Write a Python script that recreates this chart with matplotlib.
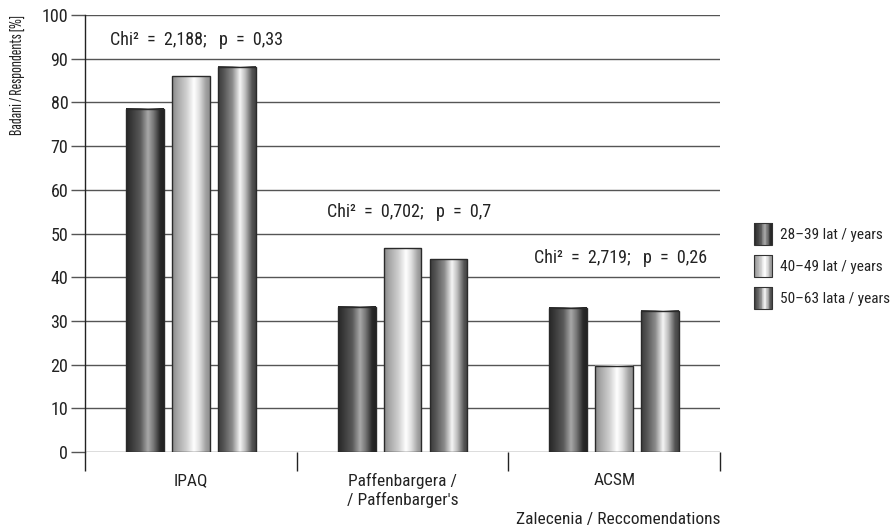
import numpy as np
import matplotlib
matplotlib.use("Agg")
import matplotlib.pyplot as plt
from matplotlib.colors import LinearSegmentedColormap
from matplotlib.patches import Rectangle
from matplotlib.legend_handler import HandlerBase

plt.rcParams['font.family'] = ['Roboto Condensed', 'DejaVu Sans']

categories = ["IPAQ", "Paffenbargera /\n/ Paffenbarger's", "ACSM"]
series_names = ["28\u201339 lat / years", "40\u201349 lat / years", "50\u201363 lata / years"]
val_28_39 = [78.6, 33.2, 33.0]
val_40_49 = [86.0, 46.6, 19.7]
val_50_63 = [88.2, 44.1, 32.3]
chi_texts = ["Chi\u00b2  =  2,188;   p  =  0,33", "Chi\u00b2  =  0,702;   p  =  0,7",
             "Chi\u00b2  =  2,719;   p  =  0,26"]
chi_pos = [(-0.38, 94.3), (0.643, 54.9), (1.621, 44.4)]

# cylinder-like shading for each series
shades = [
    ["#262626", "#3a3a3a", "#5a5a5a", "#a8a8a8", "#7a7a7a", "#2a2a2a", "#222222"],
    ["#8a8a8a", "#a8a8a8", "#cfcfcf", "#ffffff", "#e0e0e0", "#a0a0a0", "#909090"],
    ["#3a3a3a", "#555555", "#8c8c8c", "#f5f5f5", "#bdbdbd", "#555555", "#404040"],
]
pos = [0, 0.15, 0.38, 0.58, 0.72, 0.9, 1.0]
cmaps = [LinearSegmentedColormap.from_list("s%d" % i, list(zip(pos, c))) for i, c in enumerate(shades)]
grad = np.linspace(0, 1, 200).reshape(1, -1)


class GradHandler(HandlerBase):
    def __init__(self, cmap):
        super().__init__()
        self.cmap = cmap

    def create_artists(self, legend, orig_handle, xdescent, ydescent, width, height, fontsize, trans):
        arts = []
        w = width
        h = 16
        x0 = -xdescent
        y0 = -ydescent + (height - h) / 2
        n = 24
        for k in range(n):
            c = self.cmap((k + 0.5) / n)
            arts.append(Rectangle((x0 + k * w / n, y0), w / n + 0.3, h, facecolor=c,
                                  edgecolor='none', transform=trans))
        arts.append(Rectangle((x0, y0), w, h, facecolor='none', edgecolor='#333333',
                              lw=0.8, transform=trans))
        return arts


fig = plt.figure(figsize=(8.93, 5.29), dpi=100)
ax = fig.add_axes([0.0952, 0.1456, 0.7111, 0.826])

x = np.arange(len(categories))
width = 0.179
pitch = 0.217
all_vals = [val_28_39, val_40_49, val_50_63]
handles = []
for i, vals in enumerate(all_vals):
    bars = ax.bar(x + (i - 1) * pitch, vals, width, facecolor='none', edgecolor='#2a2a2a',
                  lw=1.0, zorder=4)
    for b in bars:
        x0, y0 = b.get_x(), b.get_y()
        ax.imshow(grad, extent=[x0, x0 + b.get_width(), y0, y0 + b.get_height()],
                  aspect='auto', cmap=cmaps[i], zorder=3, interpolation='bilinear')
    handles.append(bars)

ax.set_xlim(-0.5, 2.5)
ax.set_ylim(0, 100)
ax.set_aspect('auto')

for t, (tx, ty) in zip(chi_texts, chi_pos):
    ax.text(tx, ty, t, fontsize=13, va='center', ha='left', color='#222222')

ax.set_yticks(np.arange(0, 101, 10))
ax.yaxis.grid(True, color='#555555', lw=1.0, zorder=1)
ax.set_axisbelow(True)
ax.tick_params(axis='y', length=10, width=1.0, color='#555555', labelsize=13, pad=2,
               labelcolor='#222222')

ax.set_xticks(x)
ax.set_xticklabels(categories, fontsize=12.5, color='#222222', linespacing=1.25)
ax.tick_params(axis='x', which='major', length=0, pad=15)
ax.set_xticks([-0.5, 0.5, 1.5, 2.5], minor=True)
ax.tick_params(axis='x', which='minor', length=14, width=1.0, color='#222222')

for s in ['top', 'right', 'bottom']:
    ax.spines[s].set_visible(False)
ax.spines['left'].set_color('#222222')
ax.spines['left'].set_linewidth(1.0)

ax.set_xlabel("Zalecenia / Reccomendations", loc='right', fontsize=12.5, color='#222222', labelpad=2.5)
ax.set_ylabel("Badani / Respondents [%]", loc='top', fontsize=12.5, color='#222222', labelpad=12,
              family=['Sofia Sans Extra Condensed', 'DejaVu Sans'])

fig.legend(handles, series_names, loc='center left', bbox_to_anchor=(0.829, 0.497),
           frameon=False, fontsize=11, handlelength=1.2, handleheight=1.4,
           handletextpad=0.5, labelspacing=0.95, labelcolor='#222222',
           handler_map={h: GradHandler(cmaps[i]) for i, h in enumerate(handles)})

fig.savefig("out.png", dpi=100)
